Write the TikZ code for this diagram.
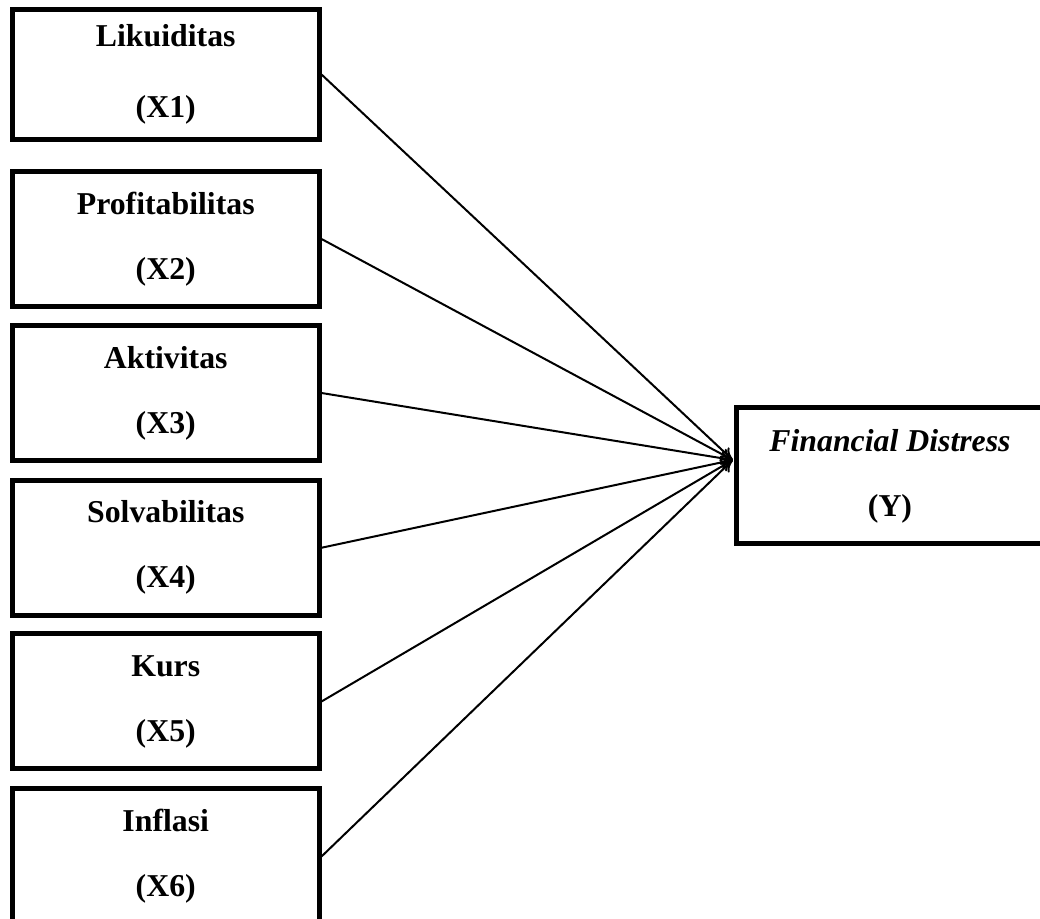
\documentclass[tikz,border=0pt]{standalone}
\usepackage{fontspec}
\setmainfont{Liberation Serif}
\usetikzlibrary{arrows.meta,calc}

\begin{document}
\begin{tikzpicture}[x=0.75pt,y=-0.75pt,
	varbox/.style={draw,line width=3.75pt,minimum width=229.9pt,minimum height=101.25pt,inner sep=0pt,align=center,
		font=\fontsize{23.85pt}{48.75pt}\selectfont\bfseries},
	link/.style={line width=1.5pt,-{To[length=9pt,width=10pt]}}]
				  \useasboundingbox (0,0) rectangle (1040,919);
				  %VARIABEL BEBAS
				  \node[varbox,minimum height=97.5pt] (X1) at (165.75,74.5) {Likuiditas\\[4.5pt](X1)};
				  \node[varbox] (X2) at (165.75,239) {Profitabilitas\\(X2)};
				  \node[varbox] (X3) at (165.75,393) {Aktivitas\\(X3)};
				  \node[varbox] (X4) at (165.75,547.75) {Solvabilitas\\(X4)};
				  \node[varbox] (X5) at (165.75,701.5) {Kurs\\(X5)};
				  \node[varbox] (X6) at (165.75,856.5) {Inflasi\\(X6)};
				  %VARIABEL TERIKAT
				  \node[varbox,minimum height=102pt] (Y) at (890,476) {\textit{Financial Distress}\\(Y)};
				  \coordinate (tip) at ($(Y.west)+(-1.5,-16)$);
				  %PANAH
				  \foreach \i in {1,...,6}
					\draw[link] (X\i.east) -- (tip);
				  \end{tikzpicture}
\end{document}
